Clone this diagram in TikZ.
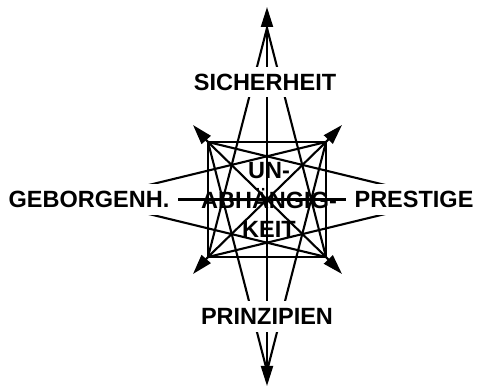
\documentclass[tikz,border=0pt]{standalone}
\usepackage{fontspec}
\setmainfont{Liberation Sans}
\usepackage{tikz}
\usetikzlibrary{arrows.meta,positioning,calc}

\begin{document}
\begin{tikzpicture}[
  x=1pt,y=-1pt,
  ln/.style={line width=2.1pt},
  arr/.style={ln,-{Triangle[length=20pt,width=12pt]}},
  lbl/.style={fill=white,inner xsep=9pt,inner ysep=7pt,
              font=\fontsize{23.5}{28}\selectfont\bfseries},
  mid/.style={align=center,inner sep=0pt,
              font=\fontsize{23.5}{29.5}\selectfont\bfseries}
]
\useasboundingbox (0,0) rectangle (480,390);

%% ── Centre and square corners ────────────────────────────────────────────────
\coordinate (c)  at (267,199.5);
\coordinate (tl) at (208,142);
\coordinate (tr) at (326,142);
\coordinate (bl) at (208,257);
\coordinate (br) at (326,257);

%% ── Outer points (where the fans meet) ───────────────────────────────────────
\coordinate (n) at (267,28);
\coordinate (s) at (267,371);
\coordinate (w) at (89,199.5);
\coordinate (e) at (445,199.5);

%% ── Arrow tips ───────────────────────────────────────────────────────────────
\coordinate (ntip)  at (267,7);
\coordinate (stip)  at (267,386);
\coordinate (tltip) at (193,125);
\coordinate (trtip) at (342,125);
\coordinate (bltip) at (193,274);
\coordinate (brtip) at (342,274);

%% ── Square with its diagonals ────────────────────────────────────────────────
\draw[ln] (tl) -- (tr) -- (br) -- (bl) -- cycle;
\draw[ln] (tl) -- (br);
\draw[ln] (tr) -- (bl);

%% ── Axes through the centre ──────────────────────────────────────────────────
\draw[ln] (w) -- (e);
\draw[arr] (s) -- (ntip);
\draw[arr] (n) -- (stip);

%% ── Fans: each outer point to the two far corners ───────────────────────────
\draw[ln] (n) -- (bl);
\draw[ln] (n) -- (br);
\draw[ln] (s) -- (tl);
\draw[ln] (s) -- (tr);
\draw[ln] (w) -- (tr);
\draw[ln] (w) -- (br);
\draw[ln] (e) -- (tl);
\draw[ln] (e) -- (bl);

%% ── Corner arrows ────────────────────────────────────────────────────────────
\foreach \k in {tl,tr,bl,br}
  \draw[arr] (\k) -- (\k tip);

%% ── Labels (white boxes hide the lines behind) ──────────────────────────────
\node[lbl] (sich) at (265,82)    {SICHERHEIT};
\node[lbl] (prin) at (267,316.5) {PRINZIPIEN};
\node[lbl] (gebo) at (89,199.5)  {GEBORGENH.};
\node[lbl] (pres) at (414,199.5) {PRESTIGE};
\node[mid] (unab) at (269,200)   {UN-\\ABHÄNGIG-\\KEIT};
\end{tikzpicture}
\end{document}
